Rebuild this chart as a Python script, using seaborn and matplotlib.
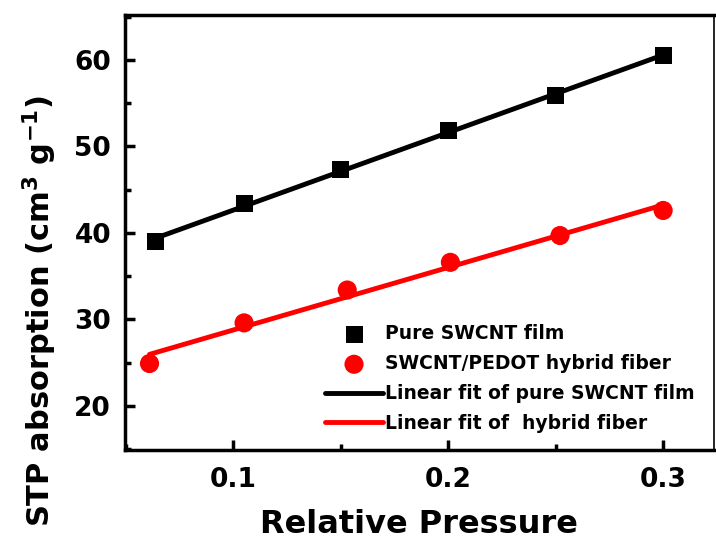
import numpy as np
import pandas as pd
import matplotlib
matplotlib.use("Agg")
import matplotlib.pyplot as plt
import seaborn as sns
from matplotlib.ticker import MultipleLocator

# Data
x_swcnt = [0.064, 0.105, 0.150, 0.200, 0.250, 0.300]
y_swcnt = [39.0, 43.4, 47.3, 51.8, 55.9, 60.5]
x_hybrid = [0.061, 0.105, 0.153, 0.201, 0.252, 0.300]
y_hybrid = [24.9, 29.6, 33.4, 36.6, 39.7, 42.6]

label_swcnt = "Pure SWCNT film"
label_hybrid = "SWCNT/PEDOT hybrid fiber"
label_fit_swcnt = "Linear fit of pure SWCNT film"
label_fit_hybrid = "Linear fit of  hybrid fiber"

xticks = [0.1, 0.2, 0.3]
yticks = [20, 30, 40, 50, 60]

sns.set_theme(style="ticks")
plt.rcParams["font.family"] = ["DejaVu Sans"]
plt.rcParams["font.weight"] = "bold"
plt.rcParams["mathtext.fontset"] = "custom"
plt.rcParams["mathtext.rm"] = "DejaVu Sans:bold"
plt.rcParams["mathtext.it"] = "DejaVu Sans:bold"
plt.rcParams["mathtext.bf"] = "DejaVu Sans:bold"
for k in ["text.color", "axes.labelcolor", "xtick.color", "ytick.color",
          "axes.edgecolor"]:
    plt.rcParams[k] = "black"

fig = plt.figure(figsize=(7.16, 5.47), dpi=100)
ax = fig.add_axes([0.1746, 0.1773, 0.8224, 0.7953])

df_s = pd.DataFrame({"x": x_swcnt, "y": y_swcnt})
df_h = pd.DataFrame({"x": x_hybrid, "y": y_hybrid})

# linear fits
ps = np.polyfit(x_swcnt, y_swcnt, 1)
ph = np.polyfit(x_hybrid, y_hybrid, 1)
fit_s = pd.DataFrame({"x": [min(x_swcnt), max(x_swcnt)]})
fit_s["y"] = np.polyval(ps, fit_s["x"])
fit_h = pd.DataFrame({"x": [min(x_hybrid), max(x_hybrid)]})
fit_h["y"] = np.polyval(ph, fit_h["x"])

sns.scatterplot(data=df_s, x="x", y="y", marker="s", s=150, color="black",
                edgecolor="none", ax=ax, label=label_swcnt, zorder=3)
sns.scatterplot(data=df_h, x="x", y="y", marker="o", s=190, color="#ff0000",
                edgecolor="none", ax=ax, label=label_hybrid, zorder=3)
sns.lineplot(data=fit_s, x="x", y="y", color="black", lw=3.5, ax=ax,
             label=label_fit_swcnt, zorder=4)
sns.lineplot(data=fit_h, x="x", y="y", color="#ff0000", lw=3.5, ax=ax,
             label=label_fit_hybrid, zorder=4)

ax.set_xlim(0.0496, 0.3236)
ax.set_ylim(14.9, 65.2)
ax.set_xticks(xticks)
ax.set_yticks(yticks)
ax.xaxis.set_minor_locator(MultipleLocator(0.05))
ax.yaxis.set_minor_locator(MultipleLocator(5))
ax.set_xticklabels([f"{v:.1f}" for v in xticks])
ax.set_yticklabels([str(v) for v in yticks])

ax.tick_params(axis="both", which="major", direction="in", length=7, width=2.5,
               labelsize=19, top=False, right=False, colors="black")
ax.tick_params(axis="x", which="major", pad=12)
ax.tick_params(axis="y", which="major", pad=10)
ax.tick_params(axis="both", which="minor", direction="in", length=4, width=2.5,
               top=False, right=False, colors="black")
for lab in ax.get_xticklabels() + ax.get_yticklabels():
    lab.set_fontweight("bold")

for sp in ax.spines.values():
    sp.set_linewidth(2.5)
    sp.set_color("black")
ax.spines["right"].set_linewidth(1.2)

ax.set_xlabel("Relative Pressure", fontsize=23, fontweight="bold")
ax.xaxis.set_label_coords(0.5, -0.135)
ax.set_ylabel(r"STP absorption (cm$^{3}$ g$^{-1}$)", fontsize=22,
              fontweight="bold")
ax.yaxis.set_label_coords(-0.112, 0.32)

leg = ax.legend(loc="lower right", frameon=False,
                prop={"weight": "bold", "size": 13.5},
                handlelength=3.1, handletextpad=0.1, labelspacing=0.58,
                borderaxespad=0.0, bbox_to_anchor=(0.98, 0.022))

fig.savefig("out.png", dpi=100)
